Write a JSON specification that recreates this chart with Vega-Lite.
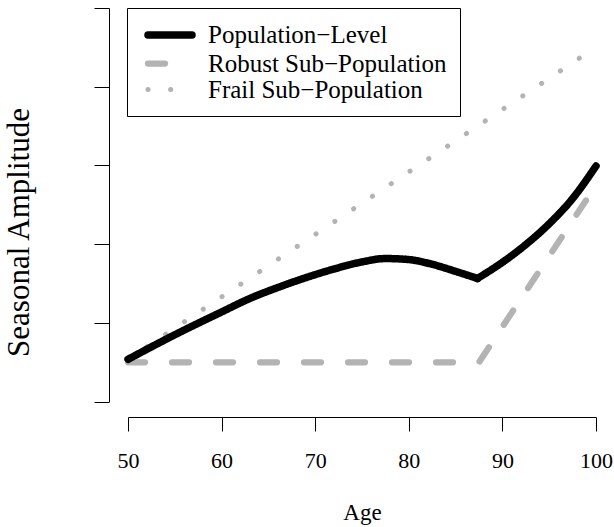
{
  "$schema": "https://vega.github.io/schema/vega-lite/v6.json",
  "width": 505,
  "height": 417,
  "autosize": {"type": "none"},
  "padding": {"left": 109, "top": 0, "right": 0, "bottom": 110},
  "background": "white",
  "config": {
    "view": {"stroke": null},
    "font": "Liberation Serif",
    "axis": {
      "domainColor": "#000000",
      "domainWidth": 1,
      "tickColor": "#000000",
      "tickWidth": 1,
      "grid": false,
      "labelFont": "Liberation Serif",
      "labelColor": "#000000",
      "titleFont": "Liberation Serif",
      "titleColor": "#000000",
      "titleFontWeight": "normal"
    }
  },
  "data": {
    "values": [
      {"series": "Frail Sub−Population", "segment": 1, "age": 50, "amplitude": 0.538},
      {"series": "Frail Sub−Population", "segment": 1, "age": 100, "amplitude": 4.504},
      {"series": "Robust Sub−Population", "segment": 1, "age": 50, "amplitude": 0.5},
      {"series": "Robust Sub−Population", "segment": 1, "age": 87.5, "amplitude": 0.5},
      {"series": "Robust Sub−Population", "segment": 1, "age": 100, "amplitude": 2.75},
      {"series": "Population−Level", "segment": 1, "age": 50, "amplitude": 0.538},
      {"series": "Population−Level", "segment": 1, "age": 55, "amplitude": 0.85},
      {"series": "Population−Level", "segment": 1, "age": 60, "amplitude": 1.14},
      {"series": "Population−Level", "segment": 1, "age": 63, "amplitude": 1.31},
      {"series": "Population−Level", "segment": 1, "age": 66, "amplitude": 1.45},
      {"series": "Population−Level", "segment": 1, "age": 69, "amplitude": 1.575},
      {"series": "Population−Level", "segment": 1, "age": 72, "amplitude": 1.685},
      {"series": "Population−Level", "segment": 1, "age": 75, "amplitude": 1.775},
      {"series": "Population−Level", "segment": 1, "age": 77.5, "amplitude": 1.818},
      {"series": "Population−Level", "segment": 1, "age": 80, "amplitude": 1.805},
      {"series": "Population−Level", "segment": 1, "age": 82.5, "amplitude": 1.745},
      {"series": "Population−Level", "segment": 1, "age": 85, "amplitude": 1.655},
      {"series": "Population−Level", "segment": 1, "age": 87.34, "amplitude": 1.565},
      {"series": "Population−Level", "segment": 2, "age": 87.34, "amplitude": 1.565},
      {"series": "Population−Level", "segment": 2, "age": 90, "amplitude": 1.77},
      {"series": "Population−Level", "segment": 2, "age": 92.5, "amplitude": 1.995},
      {"series": "Population−Level", "segment": 2, "age": 95, "amplitude": 2.26},
      {"series": "Population−Level", "segment": 2, "age": 97.5, "amplitude": 2.58},
      {"series": "Population−Level", "segment": 2, "age": 100, "amplitude": 2.993}
    ]
  },
  "encoding": {
    "x": {
      "field": "age",
      "type": "quantitative",
      "scale": {"domain": [50, 100], "range": [19, 487], "nice": false, "zero": false},
      "axis": {
        "values": [50, 60, 70, 80, 90, 100],
        "tickSize": 14,
        "labelFontSize": 22,
        "labelPadding": 36,
        "labelBaseline": "alphabetic",
        "labelFlush": false,
        "labelOverlap": false,
        "title": "Age",
        "titleFontSize": 23,
        "titleY": 102,
        "titleBaseline": "alphabetic"
      }
    },
    "y": {
      "field": "amplitude",
      "type": "quantitative",
      "scale": {"domain": [0, 5], "range": [401.7, 8], "nice": false, "zero": false},
      "axis": {
        "values": [0, 1, 2, 3, 4, 5],
        "tickSize": 15,
        "labels": false,
        "title": "Seasonal Amplitude",
        "titleFontSize": 31,
        "titleAngle": -90,
        "titleX": -81,
        "titleY": 232,
        "titleAlign": "center",
        "titleBaseline": "alphabetic"
      }
    },
    "color": {
      "field": "series",
      "type": "nominal",
      "scale": {
        "domain": ["Population−Level", "Robust Sub−Population", "Frail Sub−Population"],
        "range": ["#000000", "#b3b3b3", "#b3b3b3"]
      },
      "legend": {
        "orient": "none",
        "legendX": 18,
        "legendY": 8,
        "title": null,
        "strokeColor": "#000000",
        "fillColor": "#ffffff",
        "padding": 13,
        "rowPadding": 0,
        "labelFont": "Liberation Serif",
        "labelFontSize": 25,
        "labelColor": "#000000",
        "labelOffset": 24,
        "labelLimit": 400,
        "symbolType": "M-2.2,0H2.2",
        "symbolSize": 400,
        "symbolOffset": 16,
        "symbolStrokeWidth": 4.5,
        "encode": {
          "symbols": {
            "update": {
              "strokeDash": {"signal": "datum.value === 'Robust Sub−Population' ? [12.5, 22.5] : datum.value === 'Frail Sub−Population' ? [0.1, 18.2] : [1, 0]"},
              "strokeCap": {"value": "round"},
              "fill": {"value": "transparent"}
            }
          }
        }
      }
    },
    "strokeDash": {
      "field": "series",
      "type": "nominal",
      "scale": {
        "domain": ["Population−Level", "Robust Sub−Population", "Frail Sub−Population"],
        "range": [[1, 0], [17, 27], [0.1, 22.5]]
      },
      "legend": null
    },
    "strokeWidth": {
      "field": "series",
      "type": "nominal",
      "scale": {
        "domain": ["Population−Level", "Robust Sub−Population", "Frail Sub−Population"],
        "range": [7.5, 5, 5]
      },
      "legend": null
    }
  },
  "layer": [
    {
      "transform": [{"filter": "datum.series !== 'Population−Level'"}],
      "mark": {"type": "line", "strokeCap": "round", "strokeJoin": "round"}
    },
    {
      "transform": [{"filter": "datum.series === 'Population−Level'"}],
      "mark": {"type": "line", "interpolate": "monotone", "strokeCap": "round", "strokeJoin": "round"},
      "encoding": {"detail": {"field": "segment", "type": "nominal"}}
    }
  ]
}
